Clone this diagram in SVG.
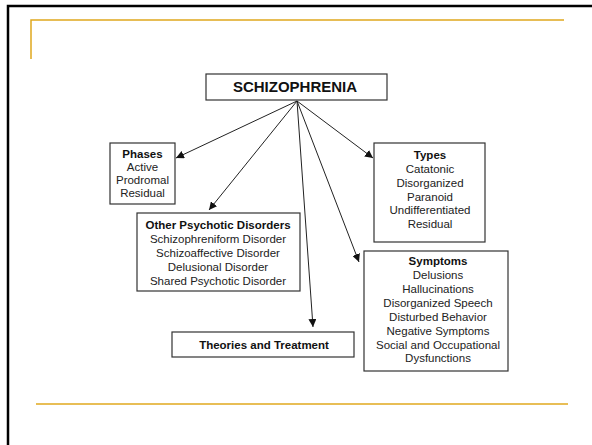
<svg xmlns="http://www.w3.org/2000/svg" width="592" height="445" viewBox="0 0 592 445">
<defs>
<style>
.box{fill:#fff;stroke:#333;stroke-width:1.2}
.t{font-family:"Liberation Sans",Arial,sans-serif;font-size:11.5px;fill:#222;text-anchor:middle}
.b{font-weight:bold;fill:#111}
.conn{stroke:#222;stroke-width:1;fill:none;marker-end:url(#ah)}
.gold{stroke:#e0a81e;stroke-width:1.5;fill:none}
</style>
<marker id="ah" viewBox="0 0 10 10" refX="10" refY="5" markerWidth="8" markerHeight="8" markerUnits="userSpaceOnUse" orient="auto">
<path d="M0,0 L10,5 L0,10 z" fill="#111"/>
</marker>
</defs>
<rect width="592" height="445" fill="#fff"/>
<path d="M8,445 V6 H592" fill="none" stroke="#000" stroke-width="2.5"/>
<path class="gold" d="M31,59 V20 H564"/>
<path class="gold" d="M36,404 H568"/>

<g id="connectors">
<line class="conn" x1="297" y1="101" x2="176" y2="158"/>
<line class="conn" x1="297" y1="101" x2="209" y2="210"/>
<line class="conn" x1="297" y1="101" x2="313" y2="327"/>
<line class="conn" x1="297" y1="101" x2="359" y2="262"/>
<line class="conn" x1="297" y1="101" x2="373" y2="158"/>
</g>

<g id="schizophrenia">
<rect class="box" x="206" y="74" width="181" height="26"/>
<text class="t b" x="295" y="92" style="font-size:15px">SCHIZOPHRENIA</text>
</g>

<g id="phases">
<rect class="box" x="110" y="143" width="65" height="61"/>
<text class="t b" x="142.5" y="158">Phases</text>
<text class="t" x="142.5" y="171">Active</text>
<text class="t" x="142.5" y="184">Prodromal</text>
<text class="t" x="142.5" y="197">Residual</text>
</g>

<g id="types">
<rect class="box" x="374" y="143" width="111" height="99"/>
<text class="t b" x="430" y="159">Types</text>
<text class="t" x="430" y="173">Catatonic</text>
<text class="t" x="430" y="187">Disorganized</text>
<text class="t" x="430" y="200.5">Paranoid</text>
<text class="t" x="430" y="214">Undifferentiated</text>
<text class="t" x="430" y="228">Residual</text>
</g>

<g id="other">
<rect class="box" x="137" y="213" width="163" height="78"/>
<text class="t b" x="218" y="229">Other Psychotic Disorders</text>
<text class="t" x="218" y="243">Schizophreniform Disorder</text>
<text class="t" x="218" y="257">Schizoaffective Disorder</text>
<text class="t" x="218" y="271">Delusional Disorder</text>
<text class="t" x="218" y="285">Shared Psychotic Disorder</text>
</g>

<g id="symptoms">
<rect class="box" x="364" y="251" width="144" height="120"/>
<text class="t b" x="438" y="265">Symptoms</text>
<text class="t" x="438" y="279">Delusions</text>
<text class="t" x="438" y="293">Hallucinations</text>
<text class="t" x="438" y="307">Disorganized Speech</text>
<text class="t" x="438" y="321">Disturbed Behavior</text>
<text class="t" x="438" y="335">Negative Symptoms</text>
<text class="t" x="438" y="348.5">Social and Occupational</text>
<text class="t" x="438" y="362">Dysfunctions</text>
</g>

<g id="theories">
<rect class="box" x="172" y="332" width="182" height="25"/>
<text class="t b" x="264" y="349">Theories and Treatment</text>
</g>
</svg>
